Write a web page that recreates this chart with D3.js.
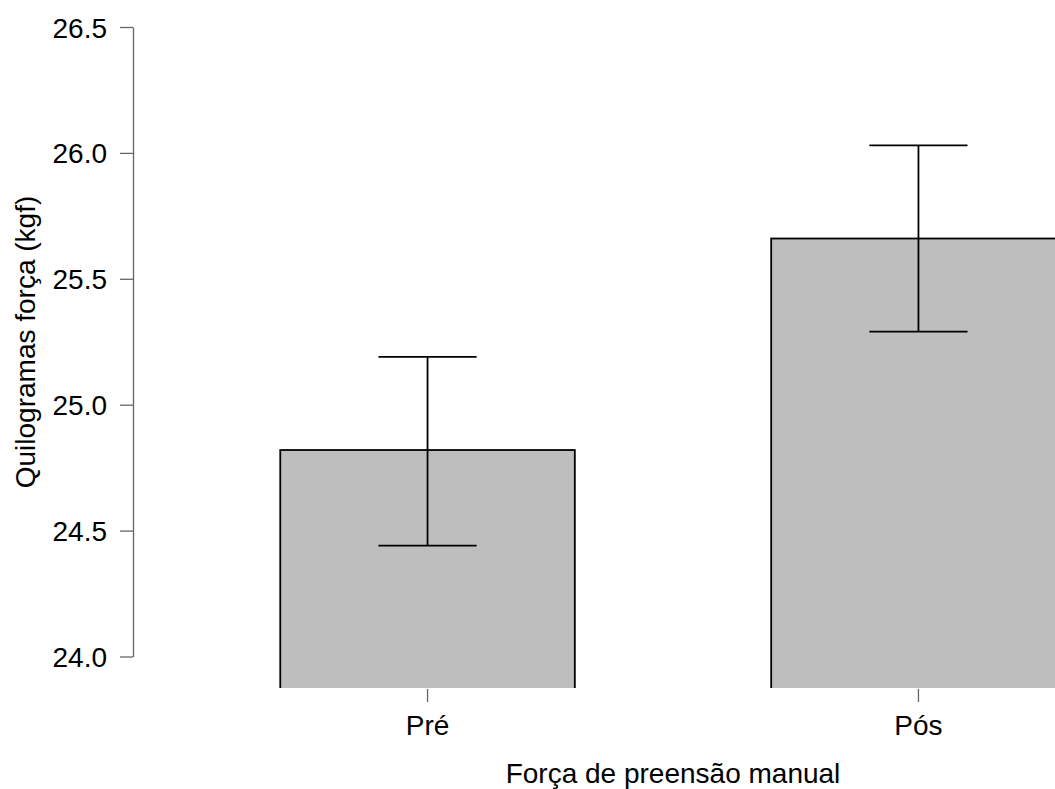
<!DOCTYPE html>
<html>
<head>
<meta charset="utf-8">
<script src="https://cdn.jsdelivr.net/npm/d3@7"></script>
<style>
    html, body { margin: 0; padding: 0; background: #fff; }
    svg { display: block; font-family: "Liberation Sans", Arial, sans-serif; }
    .axis text { font-size: 28px; fill: #000; font-family: "Liberation Sans", Arial, sans-serif; }
    .axis line, .axis path { stroke: #666; stroke-width: 1.3; }
</style>
</head>
<body>
<div id="vis-container"></div>
<script>
"use strict";

// Chart values
const categories = ["Pré", "Pós"];
const means = [24.82, 25.66];
const upper = [25.19, 26.03];
const lower = [24.44, 25.29];
const yTicks = [24.0, 24.5, 25.0, 25.5, 26.0, 26.5];

function mainIndex()
{
    const width = 1055;
    const height = 789;

    // plot region (R style, bars clipped at the bottom)
    const plot = { left: 133, top: 27, bottom: 656.5, clipBottom: 688 };

    const data = categories.map((c, i) => ({
        cat: c,
        mean: means[i],
        hi: upper[i],
        lo: lower[i]
    }));

    const x = d3.scaleBand()
        .domain(categories)
        .range([plot.left, plot.left + 1080])
        .paddingInner(0.4)
        .paddingOuter(0.3);

    const y = d3.scaleLinear()
        .domain([24.0, 26.5])
        .range([plot.bottom, plot.top]);

    const svg = d3.select("#vis-container")
        .append("svg")
        .attr("width", width)
        .attr("height", height);

    svg.append("defs")
        .append("clipPath")
        .attr("id", "plot-clip")
        .append("rect")
        .attr("x", 0)
        .attr("y", 0)
        .attr("width", width)
        .attr("height", plot.clipBottom);

    // Bars
    svg.append("g")
        .attr("clip-path", "url(#plot-clip)")
        .selectAll("rect")
        .data(data)
        .enter()
        .append("rect")
        .attr("x", d => x(d.cat))
        .attr("y", d => y(d.mean))
        .attr("width", x.bandwidth())
        .attr("height", d => plot.clipBottom + 10 - y(d.mean))
        .style("fill", "#bebebe")
        .style("stroke", "#000")
        .style("stroke-width", 1.8);

    // Error bars
    const capHalf = x.bandwidth() / 6;
    const err = svg.append("g")
        .selectAll("g")
        .data(data)
        .enter()
        .append("g")
        .attr("transform", d => `translate(${x(d.cat) + x.bandwidth() / 2},0)`)
        .style("stroke", "#000")
        .style("stroke-width", 1.8);

    err.append("line")
        .attr("x1", 0).attr("x2", 0)
        .attr("y1", d => y(d.hi))
        .attr("y2", d => y(d.lo));

    err.append("line")
        .attr("x1", -capHalf).attr("x2", capHalf)
        .attr("y1", d => y(d.hi))
        .attr("y2", d => y(d.hi));

    err.append("line")
        .attr("x1", -capHalf).attr("x2", capHalf)
        .attr("y1", d => y(d.lo))
        .attr("y2", d => y(d.lo));

    // Y axis
    const yAxis = d3.axisLeft(y)
        .tickValues(yTicks)
        .tickFormat(d3.format(".1f"))
        .tickSizeInner(13)
        .tickSizeOuter(0)
        .tickPadding(13);

    const gy = svg.append("g")
        .attr("class", "y axis")
        .attr("transform", `translate(${plot.left},0)`)
        .call(yAxis);
    gy.selectAll("text").attr("dy", "0.36em");

    // X axis (ticks only)
    const xAxis = d3.axisBottom(x)
        .tickSizeInner(13)
        .tickSizeOuter(0)
        .tickPadding(13);

    const gx = svg.append("g")
        .attr("class", "x axis")
        .attr("transform", `translate(0,${plot.clipBottom + 1})`)
        .call(xAxis);
    gx.select(".domain").remove();

    // Axis titles
    svg.append("text")
        .attr("x", x(categories[0]) + x.bandwidth() / 2 + (x.step()) / 2)
        .attr("y", 783)
        .style("text-anchor", "middle")
        .style("font-size", "28px")
        .text("Força de preensão manual");

    svg.append("text")
        .attr("transform", "rotate(-90)")
        .attr("x", -342)
        .attr("y", 35)
        .style("text-anchor", "middle")
        .style("font-size", "28px")
        .text("Quilogramas força (kgf)");
}

document.addEventListener("DOMContentLoaded", mainIndex);
</script>
</body>
</html>
